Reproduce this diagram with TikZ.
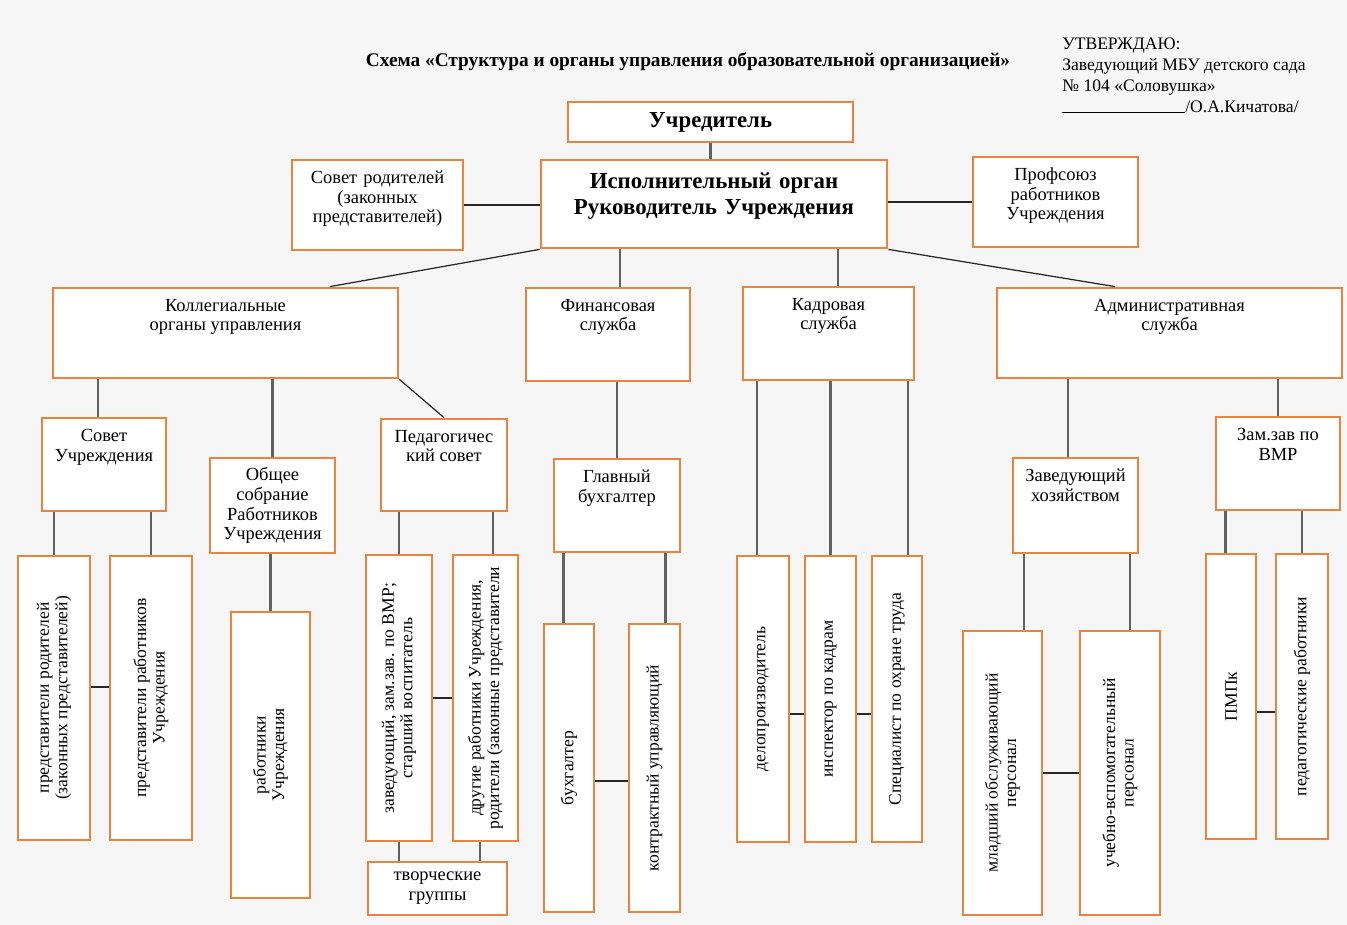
\documentclass[tikz,border=0pt]{standalone}
\usepackage{fontspec}
\setmainfont{Liberation Serif}
\usetikzlibrary{fit}

\definecolor{boxOrange}{RGB}{234,132,60}
\definecolor{paperGray}{RGB}{246,246,246}

\tikzset{
    orgBox/.style = {draw = boxOrange, line width = 1.6pt, fill = white, inner sep = 0pt},
    boxText/.style = {align = center, inner sep = 0pt, font = \fontsize{10.5}{11.3}\selectfont},
    headText/.style = {boxText, anchor = north, yshift = -0.24cm},
    sideText/.style = {align = center, inner sep = 0pt, rotate = 90, font = \fontsize{10}{10.5}\selectfont},
    link/.style = {draw = black!62, line width = 1.3pt},
    thinLink/.style = {draw = black!85, line width = 0.7pt}
}

\begin{document}
\begin{tikzpicture}[x = 0.02cm, y = -0.02cm]

    %% Page
    \fill [paperGray] (0,0) rectangle (1347,925);

    %% Drawing title and approval
    \node (title) at (688,62) [font = \bfseries\fontsize{11}{13}\selectfont]
    {Схема «Структура и органы управления образовательной организацией»};

    \node (approval) at (1062,38) [anchor = north west, align = left, inner sep = 0pt, font = \fontsize{10}{11.9}\selectfont]
    {УТВЕРЖДАЮ:\\Заведующий МБУ детского сада\\№ 104 «Соловушка»\\\rule{2.46cm}{0.5pt}/О.А.Кичатова/};

    %% Drawing top level
    \node (uchr) [orgBox, fit = {(568,102) (853,142)}] {};
    \node (uchrText) at (uchr.center) [inner sep = 0pt, font = \bfseries\fontsize{13}{15}\selectfont] {Учредитель};

    \node (isp) [orgBox, fit = {(541,160) (887,248)}, align = center, font = \bfseries\fontsize{13}{14.7}\selectfont]
    {Исполнительный орган\\Руководитель Учреждения};

    \node (sovRod) [orgBox, fit = {(292,160) (463,250)}, boxText] {Совет родителей\\(законных\\представителей)};
    \node (prof) [orgBox, fit = {(973,157) (1138,247)}, boxText] {Профсоюз\\работников\\Учреждения};

    %% Drawing services
    \node (kolleg) [orgBox, fit = {(53,288) (398,378)}] {};
    \node (kollegText) [headText] at (kolleg.north) {Коллегиальные\\органы управления};

    \node (fin) [orgBox, fit = {(526,288) (690,381)}] {};
    \node (finText) [headText] at (fin.north) {Финансовая\\служба};

    \node (kadr) [orgBox, fit = {(743,287) (914,380)}] {};
    \node (kadrText) [headText] at (kadr.north) {Кадровая\\служба};

    \node (admin) [orgBox, fit = {(997,288) (1342,378)}] {};
    \node (adminText) [headText] at (admin.north) {Административная\\служба};

    %% Drawing third level
    \node (sovUchr) [orgBox, fit = {(42,418) (166,511)}] {};
    \node (sovUchrText) [headText] at (sovUchr.north) {Совет\\Учреждения};

    \node (obsh) [orgBox, fit = {(210,458) (335,553)}] {};
    \node (obshText) [boxText] at (obsh.center) {Общее\\собрание\\Работников\\Учреждения};

    \node (ped) [orgBox, fit = {(381,419) (507,511)}] {};
    \node (pedText) [headText] at (ped.north) {Педагогичес\\кий совет};

    \node (glavBuh) [orgBox, fit = {(554,459) (680,552)}] {};
    \node (glavBuhText) [headText] at (glavBuh.north) {Главный\\бухгалтер};

    \node (zavHoz) [orgBox, fit = {(1013,458) (1138,553)}] {};
    \node (zavHozText) [headText] at (zavHoz.north) {Заведующий\\хозяйством};

    \node (zamZav) [orgBox, fit = {(1216,417) (1340,510)}] {};
    \node (zamZavText) [headText] at (zamZav.north) {Зам.зав по\\ВМР};

    %% Drawing staff columns
    \node (predRod) [orgBox, fit = {(18,556) (90,840)}] {};
    \node (predRodText) [sideText] at (predRod) {представители родителей\\(законных представителей)};

    \node (predRab) [orgBox, fit = {(110,556) (192,840)}] {};
    \node (predRabText) [sideText] at (predRab) {представители работников\\Учреждения};

    \node (rabUchr) [orgBox, fit = {(231,612) (310,898)}] {};
    \node (rabUchrText) [sideText] at (rabUchr) {работники\\Учреждения};

    \node (zavZam) [orgBox, fit = {(366,555) (432,841)}] {};
    \node (zavZamText) [sideText] at (zavZam) {заведующий, зам.зав. по ВМР;\\старший воспитатель};

    \node (drugie) [orgBox, fit = {(453,555) (518,841)}] {};
    \node (drugieText) [sideText] at (drugie) {другие работники Учреждения,\\родители (законные представители};

    \node (tvorch) [orgBox, fit = {(368,862) (507,915)}] {};
    \node (tvorchText) [boxText] at (tvorch.center) {творческие\\группы};

    \node (buh) [orgBox, fit = {(544,624) (594,912)}] {};
    \node (buhText) [sideText] at (buh) {бухгалтер};

    \node (kontr) [orgBox, fit = {(629,624) (680,912)}] {};
    \node (kontrText) [sideText] at (kontr) {контрактный управляющий};

    \node (delo) [orgBox, fit = {(737,556) (789,842)}] {};
    \node (deloText) [sideText] at (delo) {делопроизводитель};

    \node (insp) [orgBox, fit = {(805,556) (856,842)}] {};
    \node (inspText) [sideText] at (insp) {инспектор по кадрам};

    \node (spec) [orgBox, fit = {(872,556) (922,842)}] {};
    \node (specText) [sideText] at (spec) {Специалист по охране труда};

    \node (mlad) [orgBox, fit = {(963,631) (1042,915)}] {};
    \node (mladText) [sideText] at (mlad) {младший обслуживающий\\персонал};

    \node (uchVsp) [orgBox, fit = {(1080,631) (1160,915)}] {};
    \node (uchVspText) [sideText] at (uchVsp) {учебно-вспомогательный\\персонал};

    \node (pmpk) [orgBox, fit = {(1206,554) (1256,839)}] {};
    \node (pmpkText) [sideText] at (pmpk) {ПМПк};

    \node (pedRab) [orgBox, fit = {(1276,554) (1328,839)}] {};
    \node (pedRabText) [sideText] at (pedRab) {педагогические работники};

    %% Drawing links of the top level
    \draw [link] (uchr.south) -- (uchr.south |- isp.north);
    \draw [thinLink] (sovRod.east) -- (isp.west |- sovRod.east);
    \draw [thinLink] (isp.east |- prof.west) -- (prof.west);

    \draw [thinLink] (isp.south west) -- ([xshift = 2.09cm]kolleg.north);
    \draw [link] ([xshift = 0.24cm]fin.north) -- ([xshift = 0.24cm]fin.north |- isp.south);
    \draw [link] ([xshift = 0.19cm]kadr.north) -- ([xshift = 0.19cm]kadr.north |- isp.south);
    \draw [thinLink] (isp.south east) -- ([xshift = -1.09cm]admin.north);

    %% Drawing links of the services
    \draw [link] ([xshift = -0.12cm]sovUchr.north) -- ([xshift = -0.12cm]sovUchr.north |- kolleg.south);
    \draw [link] (obsh.north) -- (obsh.north |- kolleg.south);
    \draw [thinLink] (kolleg.south east) -- (ped.north);
    \draw [link] (glavBuh.north) -- (glavBuh.north |- fin.south);
    \draw [link] ([xshift = -0.15cm]zavHoz.north) -- ([xshift = -0.15cm]zavHoz.north |- admin.south);
    \draw [link] (zamZav.north) -- (zamZav.north |- admin.south);

    \draw [link] ([xshift = -0.12cm]delo.north) -- ([xshift = -0.12cm]delo.north |- kadr.south);
    \draw [link] (insp.north) -- (insp.north |- kadr.south);
    \draw [link] ([xshift = 0.22cm]spec.north) -- ([xshift = 0.22cm]spec.north |- kadr.south);

    %% Drawing links of the staff
    \draw [link] (predRod.north) -- (predRod.north |- sovUchr.south);
    \draw [link] (predRab.north) -- (predRab.north |- sovUchr.south);
    \draw [link] (rabUchr.north) -- (rabUchr.north |- obsh.south);
    \draw [link] (zavZam.north) -- (zavZam.north |- ped.south);
    \draw [link] ([xshift = 0.15cm]drugie.north) -- ([xshift = 0.15cm]drugie.north |- ped.south);
    \draw [link] (zavZam.south) -- (zavZam.south |- tvorch.north);
    \draw [link] ([xshift = -0.11cm]drugie.south) -- ([xshift = -0.11cm]drugie.south |- tvorch.north);
    \draw [link] ([xshift = -0.11cm]buh.north) -- ([xshift = -0.11cm]buh.north |- glavBuh.south);
    \draw [link] ([xshift = 0.22cm]kontr.north) -- ([xshift = 0.22cm]kontr.north |- glavBuh.south);
    \draw [link] ([xshift = 0.43cm]mlad.north) -- ([xshift = 0.43cm]mlad.north |- zavHoz.south);
    \draw [link] ([xshift = 0.2cm]uchVsp.north) -- ([xshift = 0.2cm]uchVsp.north |- zavHoz.south);
    \draw [link] ([xshift = -0.11cm]pmpk.north) -- ([xshift = -0.11cm]pmpk.north |- zamZav.south);
    \draw [link] (pedRab.north) -- (pedRab.north |- zamZav.south);

    %% Drawing links between neighbours
    \draw [thinLink] ([yshift = 0.22cm]predRod.east) -- ([yshift = 0.22cm]predRab.west);
    \draw [thinLink] (zavZam.east) -- (drugie.west);
    \draw [thinLink] ([yshift = -0.26cm]buh.east) -- ([yshift = -0.26cm]kontr.west);
    \draw [thinLink] ([yshift = -0.3cm]delo.east) -- ([yshift = -0.3cm]insp.west);
    \draw [thinLink] ([yshift = -0.3cm]insp.east) -- ([yshift = -0.3cm]spec.west);
    \draw [thinLink] (mlad.east) -- (uchVsp.west);
    \draw [thinLink] ([yshift = -0.31cm]pmpk.east) -- ([yshift = -0.31cm]pedRab.west);

\end{tikzpicture}
\end{document}
